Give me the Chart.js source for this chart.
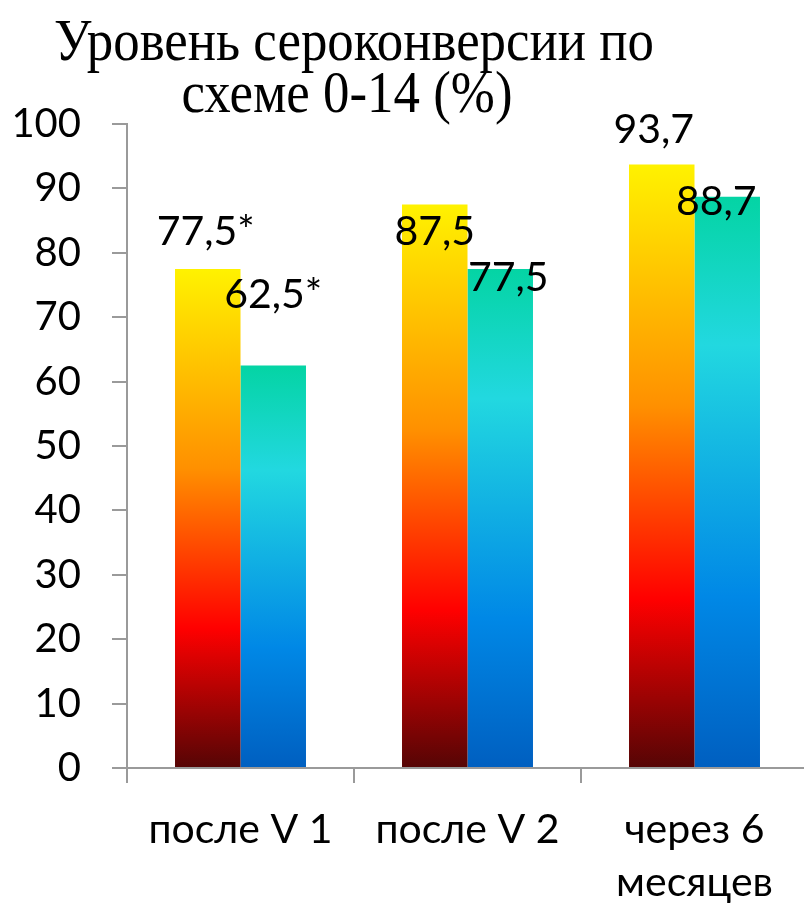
<!DOCTYPE html>
<html>
<head>
<meta charset="utf-8">
<script src="https://cdn.jsdelivr.net/npm/chart.js@4.4.1/dist/chart.umd.min.js"></script>
<style>
  html, body { margin: 0; padding: 0; background: #fff; overflow: hidden; }
  #wrap { width: 808px; height: 910px; }
</style>
</head>
<body>
<div id="wrap"><canvas id="chartCanvas"></canvas></div>
<script>
// chart data
const categories = ['после V 1', 'после V 2', ['через 6', 'месяцев']];
const seriesA = [77.5, 87.5, 93.7];
const seriesB = [62.5, 77.5, 88.7];
const marksA = ['*', '', ''];
const marksB = ['*', '', ''];
const titleLines = ['Уровень сероконверсии по', 'схеме 0-14 (%)'];

// label placement relative to bar top (px)
const labelShift = [
    [[-2, -24], [0, -58]],
    [[0, 40], [8, 22]],
    [[-8, -22], [-11, 18]]
];

const gradA = [[0, '#fff200'], [0.4, '#ff9000'], [0.72, '#ff0000'], [1, '#550505']];
const gradB = [[0, '#04d4a4'], [0.26, '#22d8e0'], [0.7, '#0088e6'], [1, '#005fc0']];

const axisGray = '#9a9a9a';
const sansFont = 'Lato, "Open Sans", sans-serif';

function barGradient(stops) {
    return function(context) {
        const chart = context.chart;
        if (!chart.chartArea) {
            return stops[0][1];
        }
        const y = chart.scales.y;
        const top = y.getPixelForValue(context.raw);
        const bottom = y.getPixelForValue(0);
        const g = chart.ctx.createLinearGradient(0, top, 0, bottom);
        stops.forEach(s => g.addColorStop(s[0], s[1]));
        return g;
    };
}

function fmt(v) {
    return String(v).replace('.', ',');
}

// title drawn condensed, like the original slide
const titlePlugin = {
    id: 'slideTitle',
    afterDraw(chart) {
        const ctx = chart.ctx;
        ctx.save();
        ctx.fillStyle = '#000';
        ctx.font = '59px "Liberation Serif", "Times New Roman", serif';
        ctx.textBaseline = 'alphabetic';
        ctx.textAlign = 'left';
        const widths = [600, 331];
        const centers = [354, 347];
        const baselines = [60, 112];
        titleLines.forEach((line, i) => {
            const w = ctx.measureText(line).width;
            const sx = widths[i] / w;
            ctx.save();
            ctx.translate(centers[i] - widths[i] / 2, baselines[i]);
            ctx.scale(sx, 1);
            ctx.fillText(line, 0, 0);
            ctx.restore();
        });
        ctx.restore();
    }
};

const valueLabels = {
    id: 'valueLabels',
    afterDatasetsDraw(chart) {
        const ctx = chart.ctx;
        ctx.save();
        ctx.fillStyle = '#000';
        ctx.font = '41px ' + sansFont;
        ctx.textAlign = 'center';
        ctx.textBaseline = 'alphabetic';
        chart.data.datasets.forEach((ds, di) => {
            const meta = chart.getDatasetMeta(di);
            meta.data.forEach((bar, i) => {
                const shift = labelShift[i][di];
                const text = fmt(ds.data[i]) + ds.marks[i];
                ctx.fillText(text, bar.x + shift[0], bar.y + shift[1]);
            });
        });
        ctx.restore();
    }
};

const context = document.getElementById('chartCanvas').getContext('2d');

const chart = new Chart(context, {
    type: 'bar',
    data: {
        labels: categories,
        datasets: [
            {
                label: 'A',
                data: seriesA,
                marks: marksA,
                backgroundColor: barGradient(gradA),
                borderWidth: 0
            },
            {
                label: 'B',
                data: seriesB,
                marks: marksB,
                backgroundColor: barGradient(gradB),
                borderWidth: 0
            }
        ]
    },
    options: {
        responsive: true,
        maintainAspectRatio: false,
        animation: false,
        layout: {
            padding: { top: 124, left: 0, right: 0, bottom: 0 }
        },
        datasets: {
            bar: {
                categoryPercentage: 0.577,
                barPercentage: 1.0
            }
        },
        scales: {
            y: {
                min: 0,
                max: 100,
                ticks: {
                    stepSize: 10,
                    color: '#000',
                    padding: 31,
                    font: { family: sansFont, size: 40 }
                },
                grid: {
                    drawOnChartArea: false,
                    tickLength: 15,
                    color: axisGray,
                    lineWidth: 2
                },
                border: { color: axisGray, width: 2 },
                afterFit(scale) { scale.width = 127; }
            },
            x: {
                ticks: {
                    color: '#000',
                    padding: 20,
                    maxRotation: 0,
                    autoSkip: false,
                    font: { family: sansFont, size: 41, lineHeight: '53px' }
                },
                grid: {
                    drawOnChartArea: false,
                    tickLength: 15,
                    color: axisGray,
                    lineWidth: 2
                },
                border: { color: axisGray, width: 2 },
                afterFit(scale) { scale.height = 142; }
            }
        },
        plugins: {
            legend: { display: false },
            title: { display: false },
            tooltip: { enabled: false }
        }
    },
    plugins: [valueLabels, titlePlugin]
});
</script>
</body>
</html>
